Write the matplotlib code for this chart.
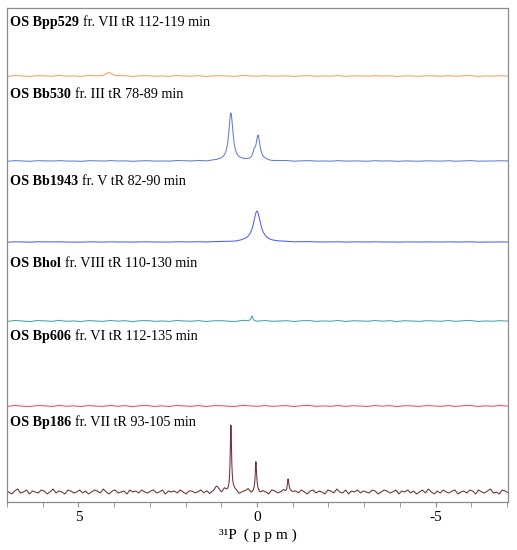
import numpy as np
import matplotlib
matplotlib.use("Agg")
import matplotlib.pyplot as plt
import matplotlib.transforms as mtransforms

plt.rcParams['font.family'] = ['Liberation Serif', 'DejaVu Serif']
plt.rcParams['axes.unicode_minus'] = False


### Data (intensities in arbitrary units)

sample_names = ["OS Bpp529", "OS Bb530", "OS Bb1943", "OS Bhol", "OS Bp606", "OS Bp186"]
sample_info = ["fr. VII tR 112-119 min", "fr. III tR 78-89 min", "fr. V tR 82-90 min",
               "fr. VIII tR 110-130 min", "fr. VI tR 112-135 min", "fr. VII tR 93-105 min"]

# peaks per spectrum: position (ppm), height, half width (ppm)
peaks_bpp529 = [(4.16, 3.0, 0.10)]
peaks_bb530 = [(0.73, 48.0, 0.07), (0.08, 6.0, 0.04), (-0.03, 25.0, 0.065)]
peaks_bb1943 = [(0.00, 31.0, 0.12)]
peaks_bhol = [(0.14, 5.0, 0.03)]
peaks_bp606 = []
peaks_bp186 = [(1.12, 4.0, 0.06), (0.73, 68.0, 0.022), (0.03, 29.0, 0.022), (-0.87, 13.0, 0.025)]

# baseline noise, evenly spread from 7 to -7 ppm
noise_bpp529 = [0.3, -0.4, 0.5, 0.0, -0.6, 0.4, 0.2, -0.3, 0.6, -0.2, 0.1, -0.5, 0.4, 0.0, -0.3,
                0.5, -0.1, 0.3, -0.6, 0.2, 0.4, -0.3, 0.1, -0.4, 0.5, 0.0, -0.2, 0.4, -0.5, 0.2,
                0.3, -0.1, -0.4, 0.5, 0.1, -0.3, 0.4, -0.2, 0.0, 0.3, -0.5, 0.2, 0.4, -0.3, 0.1,
                -0.2, 0.5, -0.4, 0.2, 0.0, -0.3, 0.4, -0.1, 0.3, -0.5, 0.2, 0.1, -0.4, 0.3, 0.0,
                -0.2, 0.4, -0.3, 0.2, 0.5, -0.4, 0.1, -0.2, 0.3, 0.0, -0.3]
noise_bb530 = [0.2, -0.3, 0.4, 0.0, -0.4, 0.3, 0.1, -0.2, 0.4, -0.1, 0.0, -0.4, 0.3, 0.1, -0.2,
               0.4, -0.1, 0.2, -0.4, 0.1, 0.3, -0.2, 0.0, -0.3, 0.4, 0.1, -0.2, 0.3, -0.4, 0.1,
               0.2, -0.1, -0.3, 0.3, 0.0, -0.2, 0.4, -0.3, 0.1, 0.2, -0.4, 0.1, 0.3, -0.2, 0.0,
               -0.3, 0.4, -0.2, 0.1, 0.0, -0.3, 0.3, -0.1, 0.2, -0.4, 0.1, 0.0, -0.3, 0.2, 0.1,
               -0.2, 0.3, -0.3, 0.1, 0.4, -0.2, 0.0, -0.1, 0.3, 0.0, -0.2]
noise_bb1943 = [0.1, -0.2, 0.2, 0.0, -0.2, 0.2, 0.1, -0.1, 0.2, -0.1, 0.0, -0.2, 0.2, 0.0, -0.1,
                0.2, -0.1, 0.1, -0.2, 0.1, 0.2, -0.1, 0.0, -0.2, 0.2, 0.0, -0.1, 0.2, -0.2, 0.1,
                0.1, 0.0, -0.2, 0.2, 0.0, -0.1, 0.2, -0.1, 0.0, 0.1, -0.2, 0.1, 0.2, -0.1, 0.0,
                -0.1, 0.2, -0.2, 0.1, 0.0, -0.1, 0.2, -0.1, 0.1, -0.2, 0.1, 0.0, -0.2, 0.1, 0.0,
                -0.1, 0.2, -0.1, 0.1, 0.2, -0.2, 0.0, -0.1, 0.1, 0.0, -0.1]
noise_bhol = [0.4, -0.5, 0.6, 0.0, -0.7, 0.5, 0.2, -0.4, 0.7, -0.3, 0.1, -0.6, 0.5, 0.0, -0.4,
              0.6, -0.2, 0.4, -0.7, 0.3, 0.5, -0.4, 0.1, -0.5, 0.6, 0.0, -0.3, 0.5, -0.6, 0.2,
              0.4, -0.2, -0.5, 0.6, 0.1, -0.4, 0.5, -0.3, 0.0, 0.4, -0.6, 0.3, 0.5, -0.4, 0.1,
              -0.3, 0.6, -0.5, 0.3, 0.0, -0.4, 0.5, -0.2, 0.4, -0.6, 0.3, 0.1, -0.5, 0.4, 0.0,
              -0.3, 0.5, -0.4, 0.3, 0.6, -0.5, 0.1, -0.3, 0.4, 0.0, -0.4]
noise_bp606 = [0.5, -0.4, 0.6, -0.2, -0.6, 0.4, 0.3, -0.5, 0.6, -0.3, 0.2, -0.6, 0.5, -0.1, -0.4,
               0.6, -0.3, 0.4, -0.7, 0.3, 0.5, -0.5, 0.2, -0.6, 0.6, 0.0, -0.4, 0.5, -0.6, 0.3,
               0.4, -0.3, -0.5, 0.6, 0.1, -0.5, 0.5, -0.4, 0.1, 0.4, -0.6, 0.3, 0.6, -0.4, 0.1,
               -0.4, 0.6, -0.5, 0.3, -0.1, -0.5, 0.5, -0.2, 0.4, -0.6, 0.3, 0.2, -0.5, 0.4, 0.0,
               -0.4, 0.5, -0.5, 0.3, 0.6, -0.5, 0.2, -0.3, 0.5, -0.1, -0.4]
noise_bp186 = [1, -1, 2, 0, -2, 1, 3, -1, 0, 2, -2, 1, 0, -1, 2, 1, -2, 0, 3, -1, 1, 0, -2, 2, 1,
               -1, 0, 2, -1, 1, -2, 0, 2, 1, -1, 3, 0, -2, 1, 2, -1, 0, 1, -2, 2, 0, 1, -1, 2, 0,
               -1, 1, 2, -1, 0, 2, -2, 1, 0, 1, -1, 2, 0, -2, 1, 1, -1, 0, 2, -1, 1, -2, 0, 2, 1,
               -1, 3, 0, -1, 2, 1, -2, 0, 1, 3, -1, 0, 2, -1, 1, 0, -2, 2, 1, -1, 0, 2, -1, 1, 0,
               1, -1, 2, 0, -2, 1, 2, -1, 1, 0, -2, 2, 1, -1, 3, 0, -1, 2, -2, 1, 0, 2, -1, 1, 0,
               -1, 2, 1, -2, 0, 2, 1, -1, 0, 2, -2, 1, 0, 2, -1, 1, -2, 0, 2, -1, 3, 0, -2, 1, -1,
               2, 0, -1, 1, 2, -2, 0, 1, -1, 2, 1, -2, 2, 0, -1, 1, 3, -1, 0, -2, 2, 1, -1, 0, 2]

all_peaks = [peaks_bpp529, peaks_bb530, peaks_bb1943, peaks_bhol, peaks_bp606, peaks_bp186]
all_noise = [noise_bpp529, noise_bb530, noise_bb1943, noise_bhol, noise_bp606, noise_bp186]

tick_major = [5, 0, -5]
tick_labels = ["5", "0", "-5"]


### Layout / style

colors = ["#f5a055", "#5f7fd6", "#4f5ef0", "#45a5a8", "#ff4a55", "#6e2f33"]
offsets = [426, 341, 260, 181, 96, 10]
label_y = [476, 404, 317, 235, 162, 76]
frame_col = "#8c8c8c"


def spectrum(x, peaks, noise):
    y = np.interp(x[::-1], np.linspace(-7.2, 7.2, len(noise)), noise[::-1])[::-1]
    for pos, h, w in peaks:
        y = y + h / (1 + ((x - pos) / w) ** 2)
    return y


fig = plt.figure(figsize=(5.17, 5.5), dpi=100)
ax = fig.add_axes([7 / 517, 48 / 550, 501 / 517, 494 / 550])

x = np.linspace(7.2, -7.2, 3000)
for peaks, noise, off, col in zip(all_peaks, all_noise, offsets, colors):
    ax.plot(x, spectrum(x, peaks, noise) + off, color=col, lw=0.75)

trans = mtransforms.blended_transform_factory(ax.transAxes, ax.transData)
for name, info, ly in zip(sample_names, sample_info, label_y):
    t = ax.text(0.006, ly, name, transform=trans, fontsize=10.2, fontweight='bold',
                va='baseline', ha='left')
    ax.annotate(info, xy=(1, ly), xycoords=(t, 'data'), xytext=(2.8, 0),
                textcoords='offset points', fontsize=10.2, va='baseline', ha='left')

ax.set_xlim(6.97, -7.03)
ax.set_ylim(0, 494)
ax.set_xticks(tick_major)
ax.set_xticklabels(tick_labels)
ax.set_xticks(np.arange(-7, 8, 1), minor=True)
ax.set_yticks([])
ax.tick_params(axis='x', which='both', direction='out', length=3.5, color=frame_col,
               labelsize=11, pad=3)
for s in ax.spines.values():
    s.set_color(frame_col)
    s.set_linewidth(0.9)

ax.set_xlabel("³¹P  ( p p m )", fontsize=11, labelpad=3)

fig.savefig("out.png", dpi=100)
